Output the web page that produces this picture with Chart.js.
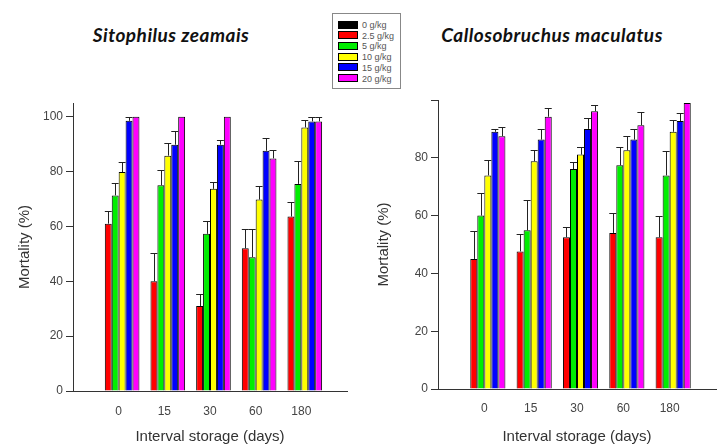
<!DOCTYPE html>
<html>
<head>
<meta charset="utf-8">
<script src="https://cdn.jsdelivr.net/npm/chart.js@4/dist/chart.umd.min.js"></script>
<style>
  html, body { margin: 0; padding: 0; background: #fff; overflow: hidden; }
  body { width: 721px; height: 446px; position: relative; }
  .wrap { position: absolute; top: 0; height: 446px; }
  .title { position: absolute; top: 23px; font: italic bold 19px Lato, "Open Sans", sans-serif; letter-spacing: 0.5px; color: #111; white-space: nowrap; transform: translateX(-50%); }
  #legend { position: absolute; left: 332px; top: 13px; width: 67px; height: 74px; border: 1px solid #888; background: #fff; z-index: 5; }
  #legend div { position: absolute; left: 5px; height: 10px; font: 9px "Liberation Sans", Arial, sans-serif; color: #555; line-height: 10px; white-space: nowrap; }
  #legend span { display: inline-block; width: 18px; height: 6px; border: 1px solid #000; margin-right: 4px; vertical-align: middle; position: relative; top: -1px; }
</style>
</head>
<body>
<div class="title" style="left:171px">Sitophilus zeamais</div>
<div class="title" style="left:552px">Callosobruchus maculatus</div>
<div id="legend"></div>
<div class="wrap" style="left:0;width:360px"><canvas id="leftChart"></canvas></div>
<div class="wrap" style="left:360px;width:368px"><canvas id="rightChart"></canvas></div>
<script>
// categories (storage interval, days) and doses
var categories = ["0", "15", "30", "60", "180"];
var doses = ["0 g/kg", "2.5 g/kg", "5 g/kg", "10 g/kg", "15 g/kg", "20 g/kg"];
var colors = ["#000000", "#ff0000", "#00ee00", "#ffff00", "#0000ff", "#ff00ff"];

// Sitophilus zeamais - mortality (%) and SD
var sz_0 = [0, 0, 0, 0, 0];
var sz_25 = [61, 40, 31, 52, 63.6];
var sz_5 = [71.3, 75, 57.3, 48.8, 75.5];
var sz_10 = [79.8, 85.8, 73.7, 69.8, 96.1];
var sz_15 = [98.5, 89.8, 89.8, 87.6, 98.3];
var sz_20 = [100, 100, 100, 84.8, 98.3];
var sz_sd_0 = [0, 0, 0, 0, 0];
var sz_sd_25 = [4.5, 10.4, 4.3, 6.9, 5.2];
var sz_sd_5 = [4.5, 5.4, 4.5, 10.1, 8.5];
var sz_sd_10 = [3.8, 4.6, 2.4, 5.1, 2.7];
var sz_sd_15 = [1.5, 5.1, 1.8, 4.6, 1.7];
var sz_sd_20 = [0, 0, 0, 3.1, 1.7];

// Callosobruchus maculatus - mortality (%) and SD
var cm_0 = [0, 0, 0, 0, 0];
var cm_25 = [45, 47.6, 52.5, 54, 52.5];
var cm_5 = [60, 54.9, 76.1, 77.4, 73.9];
var cm_10 = [73.9, 78.8, 81.1, 82.6, 89];
var cm_15 = [89, 86.3, 90, 86.3, 92.7];
var cm_20 = [87.5, 94.2, 96.1, 91.3, 99];
var cm_sd_0 = [0, 0, 0, 0, 0];
var cm_sd_25 = [9.5, 6, 3.4, 6.9, 7.5];
var cm_sd_5 = [7.8, 10.6, 2.4, 6.4, 8.6];
var cm_sd_10 = [5.2, 3.8, 2.5, 5.1, 4.2];
var cm_sd_15 = [1, 3.5, 3.6, 3.7, 2.9];
var cm_sd_20 = [3.2, 3.1, 2.3, 4.5, 0];

var yTicks = [0, 20, 40, 60, 80, 100];

// empty slot either side of the groups, like the original axis
function pad(a) { return [null].concat(a, [null]); }
var axisLabels = pad(categories).map(function (c) { return c === null ? "" : c; });

// legend
var legend = document.getElementById("legend");
doses.forEach(function (d, i) {
	var row = document.createElement("div");
	row.style.top = (6 + i * 10.7) + "px";
	row.innerHTML = '<span style="background:' + colors[i] + '"></span>' + d;
	legend.appendChild(row);
});

// error bars drawn on top of each bar
var errorBars = {
	id: "errorBars",
	afterDatasetsDraw: function (chart) {
		var ctx = chart.ctx, y = chart.scales.y;
		chart.data.datasets.forEach(function (ds, i) {
			chart.getDatasetMeta(i).data.forEach(function (bar, j) {
				var v = ds.data[j], e = ds.sd[j];
				if (v == null || !e) return;
				var top = Math.round(y.getPixelForValue(v + e)) + 0.5;
				var x = Math.round(bar.x) + 0.5;
				var half = bar.width / 2;
				ctx.save();
				ctx.strokeStyle = "#222";
				ctx.lineWidth = 1;
				ctx.beginPath();
				ctx.moveTo(x, bar.y);
				ctx.lineTo(x, top);
				ctx.moveTo(bar.x - half, top);
				ctx.lineTo(bar.x + half, top);
				ctx.stroke();
				ctx.restore();
			});
		});
	}
};

function makeChart(id, series, sds, opt) {
	return new Chart(document.getElementById(id), {
		type: "bar",
		data: {
			labels: axisLabels,
			datasets: series.map(function (s, i) {
				return {
					label: doses[i],
					data: pad(s),
					sd: pad(sds[i]),
					backgroundColor: colors[i],
					borderColor: "#000",
					borderWidth: 1
				};
			})
		},
		options: {
			responsive: true,
			maintainAspectRatio: false,
			animation: false,
			layout: { padding: { top: opt.top, right: opt.right, left: 0, bottom: 0 } },
			datasets: { bar: { categoryPercentage: 0.91, barPercentage: 1 } },
			plugins: { legend: { display: false }, tooltip: { enabled: false } },
			scales: {
				x: {
					offset: false,
					grid: { display: false, drawTicks: false },
					border: { display: true, color: "#333", width: 1 },
					ticks: { padding: opt.xPad, color: "#444", font: { family: "Liberation Sans", size: 12 }, autoSkip: false, maxRotation: 0 },
					title: { display: true, text: "Interval storage (days)", color: "#333", font: { family: "Liberation Sans", size: 15 }, padding: { top: 0, bottom: 0 } },
					afterFit: function (s) { s.height = opt.xH; }
				},
				y: {
					min: 0,
					max: opt.max,
					grid: { display: true, drawOnChartArea: false, drawTicks: true, tickLength: 7, color: "#333" },
					border: { display: true, color: "#333", width: 1 },
					afterBuildTicks: function (s) {
						s.ticks = yTicks.map(function (v) { return { value: v }; });
					},
					ticks: {
						padding: 3,
						color: "#444",
						font: { family: "Liberation Sans", size: 12 },
						callback: function (v) { return opt.hideTop && v === 100 ? "" : v; }
					},
					title: { display: true, text: "Mortality (%)", color: "#333", font: { family: "Liberation Sans", size: 15 }, padding: { top: opt.titlePad, bottom: 0 } },
					afterFit: function (s) { s.width = opt.yW; }
				}
			}
		},
		plugins: [errorBars]
	});
}

makeChart("leftChart",
	[sz_0, sz_25, sz_5, sz_10, sz_15, sz_20],
	[sz_sd_0, sz_sd_25, sz_sd_5, sz_sd_10, sz_sd_15, sz_sd_20],
	{ top: 103, right: 0, max: 105, xH: 55, xPad: 13, yW: 73, titlePad: 16, hideTop: false });

makeChart("rightChart",
	[cm_0, cm_25, cm_5, cm_10, cm_15, cm_20],
	[cm_sd_0, cm_sd_25, cm_sd_5, cm_sd_10, cm_sd_15, cm_sd_20],
	{ top: 100, right: 2, max: 100, xH: 57, xPad: 12, yW: 78, titlePad: 15, hideTop: true });
</script>
</body>
</html>
